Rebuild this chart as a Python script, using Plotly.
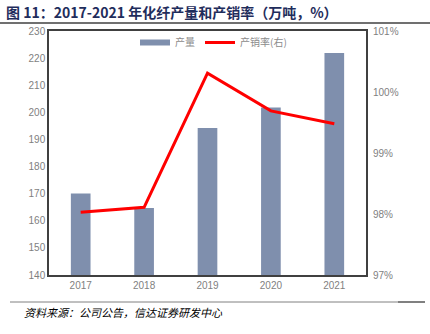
import plotly.graph_objects as go

years = ["2017", "2018", "2019", "2020", "2021"]
output = [170.1, 164.7, 194.2, 201.8, 221.9]        # 万吨
sales_rate = [98.03, 98.11, 100.31, 99.69, 99.48]   # %

L, R, T, B = 49, 366, 31, 275
W, H = 430, 334
pw, ph = R - L, B - T

def px(x):
    return (x - L) / pw

def py(y):
    return (B - y) / ph

BAR_COLOR = "#7f8fad"

fig = go.Figure()
fig.add_trace(go.Bar(
    x=years, y=output, name="产量", marker_color=BAR_COLOR,
    marker_line_width=0, width=0.31, yaxis="y", showlegend=False,
))
# legend-only proxy so the bar key is a wide flat rectangle like the reference
fig.add_trace(go.Scatter(
    x=[None], y=[None], name="产量", mode="lines",
    line=dict(color=BAR_COLOR, width=6), yaxis="y", showlegend=True,
))
fig.add_trace(go.Scatter(
    x=years, y=sales_rate, name="产销率(右)", mode="lines",
    line=dict(color="#ff0000", width=3), yaxis="y2",
))

tickfont = dict(family="Liberation Sans, Arial", size=10, color="#7f7f7f")
fig.update_layout(
    width=W, height=H,
    margin=dict(l=L, r=W - R, t=T, b=H - B),
    paper_bgcolor="white", plot_bgcolor="white",
    showlegend=True,
    legend=dict(orientation="h", x=px(135), y=py(28), xanchor="left", yanchor="top",
                font=dict(family="Noto Sans CJK SC", size=10, color="#8c8c8c"),
                bgcolor="rgba(0,0,0,0)", itemwidth=30, tracegroupgap=0),
    xaxis=dict(showgrid=False, showline=True, linecolor="#404040", linewidth=1.5,
               mirror=True, ticks="", tickfont=tickfont),
    yaxis=dict(range=[140, 230], dtick=10, showgrid=False, showline=True,
               linecolor="#404040", linewidth=1.5, mirror=True, ticks="",
               tickfont=tickfont, zeroline=False),
    yaxis2=dict(range=[97, 101], dtick=1, overlaying="y", side="right",
                showgrid=False, ticks="", tickfont=tickfont, ticksuffix="%",
                zeroline=False, ticklabelstandoff=6),
    bargap=0.69,
)

fig.add_shape(type="line", xref="paper", yref="paper",
              x0=px(0), x1=px(430), y0=py(23), y1=py(23),
              line=dict(color="#404040", width=1.5))
fig.add_shape(type="line", xref="paper", yref="paper",
              x0=px(10), x1=px(425), y0=py(302), y1=py(302),
              line=dict(color="#808080", width=1))
fig.add_shape(type="line", xref="paper", yref="paper",
              x0=px(398), x1=px(425), y0=py(302), y1=py(302),
              line=dict(color="#808080", width=2))

fig.add_annotation(xref="paper", yref="paper", x=px(4), y=py(12),
                   xanchor="left", yanchor="middle", showarrow=False,
                   text="<b>图 11：2017-2021 年化纤产量和产销率（万吨，%）</b>",
                   font=dict(family="Noto Sans CJK SC", size=14, color="#1f2d5c"))
fig.add_annotation(xref="paper", yref="paper", x=px(22), y=py(312),
                   xanchor="left", yanchor="middle", showarrow=False,
                   text="<i>资料来源：公司公告，信达证券研发中心</i>",
                   font=dict(family="Noto Sans CJK SC", size=11, color="#000000"))

fig.write_html("out.html")
